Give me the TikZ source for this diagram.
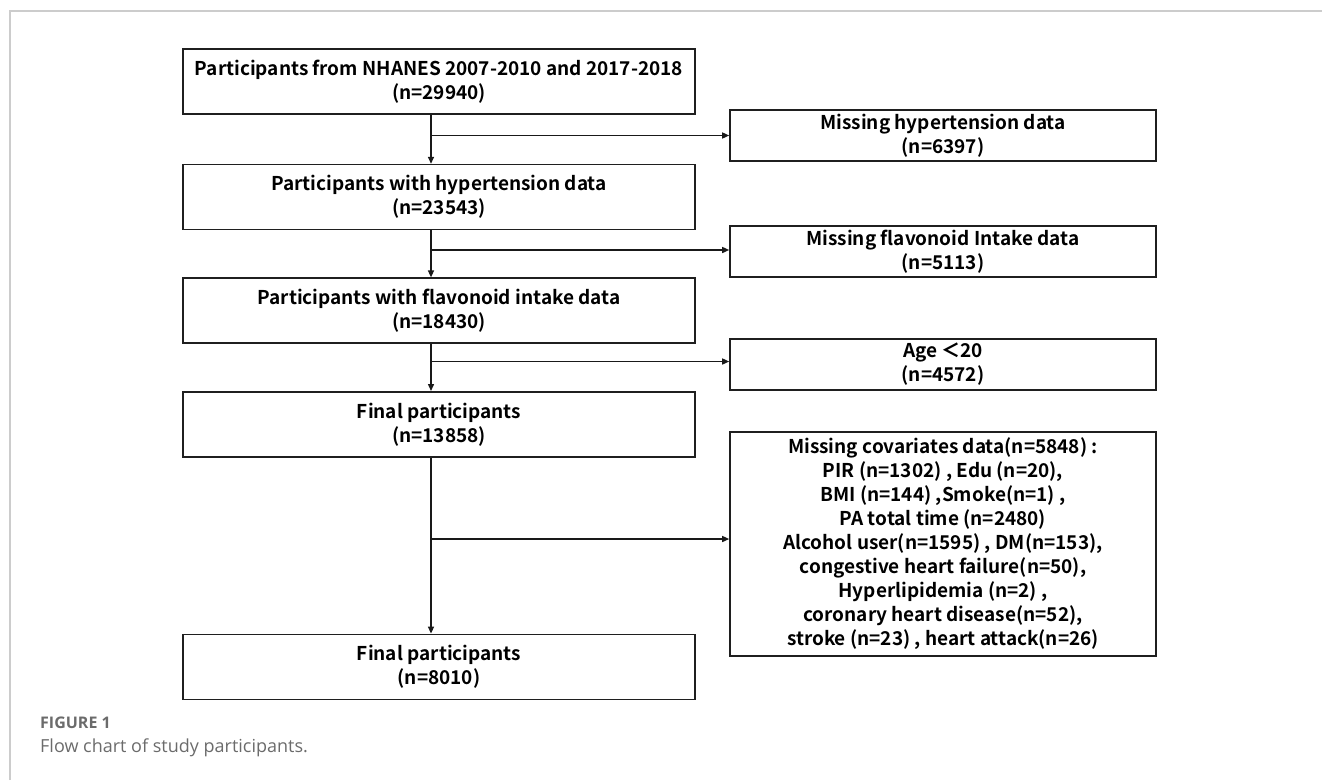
\documentclass[tikz,border=0pt]{standalone}
\usepackage{fontspec}
\setmainfont{Noto Sans CJK SC}[BoldFont={Noto Sans CJK SC Bold}]
\newfontfamily\capfont{Open Sans}
\usetikzlibrary{arrows.meta, positioning}

\begin{document}
\begin{tikzpicture}[
    x=1pt, y=-1pt,
    node distance=47pt,
    lbox/.style={rectangle, draw=black!88, line width=1.6pt, minimum width=512pt, minimum height=65pt,
                 align=center, font=\fontsize{19}{24}\selectfont\bfseries},
    rbox/.style={rectangle, draw=black!88, line width=1.6pt, minimum width=426pt, minimum height=51pt,
                 align=center, font=\fontsize{19}{24}\selectfont\bfseries},
    arr/.style={-{Triangle[length=7pt, width=6pt]}, line width=1.4pt, black!90},
    captext/.style={anchor=west, inner sep=0pt, text=black!58},
]
\useasboundingbox (0,0) rectangle (1322,780);

% page frame
\draw[black!20, line width=1.2pt] (10,780) -- (10,11) -- (1322,11);

% main column
\node[lbox] (all) at (439,81.5) {Participants from NHANES 2007-2010 and 2017-2018\\(n=29940)};
\node[lbox, below=49pt of all] (hyp) {Participants with hypertension data\\(n=23543)};
\node[lbox, below=of hyp] (flav) {Participants with flavonoid intake data\\(n=18430)};
\node[lbox, below=of flav] (fin1) {Final participants\\(n=13858)};
\node[lbox, below=176pt of fin1] (fin2) {Final participants\\(n=8010)};

% exclusions
\node[rbox] (misshyp) at (943,135.5) {Missing hypertension data\\(n=6397)};
\node[rbox] (missflav) at (943,251.5) {Missing flavonoid Intake data\\(n=5113)};
\node[rbox] (age) at (943,364.5) {Age {\fontspec{Noto Sans CJK SC}＜}20\\(n=4572)};
\node[rbox, minimum height=224pt] (misscov) at (943,544) {Missing covariates data(n=5848) :\\
    PIR (n=1302) , Edu (n=20),\\
    BMI (n=144) ,Smoke(n=1) ,\\
    PA total time (n=2480)\\
    Alcohol user(n=1595) , DM(n=153),\\
    congestive heart failure(n=50),\\
    Hyperlipidemia (n=2) ,\\
    coronary heart disease(n=52),\\
    stroke (n=23) , heart attack(n=26)};

% trunk line
\coordinate (trunk) at (431,0);
\draw[arr] (trunk |- all.south) -- (trunk |- hyp.north);
\draw[arr] (trunk |- hyp.south) -- (trunk |- flav.north);
\draw[arr] (trunk |- flav.south) -- (trunk |- fin1.north);
\draw[arr] (trunk |- fin1.south) -- (trunk |- fin2.north);

% side branches
\draw[arr] (trunk |- misshyp.west) -- (misshyp.west);
\draw[arr] ([yshift=1.5pt]trunk |- missflav.west) -- ([yshift=1.5pt]missflav.west);
\draw[arr] ([yshift=3pt]trunk |- age.west) -- ([yshift=3pt]age.west);
\draw[arr] ([yshift=5pt]trunk |- misscov.west) -- ([yshift=5pt]misscov.west);

% caption
\node[captext, font=\capfont\fontsize{16}{19}\selectfont\bfseries] (fignum) at (40,723) {FIGURE 1};
\node[captext, font=\capfont\fontsize{18}{22}\selectfont] (figcap) at (40,748) {Flow chart of study participants.};

\end{tikzpicture}
\end{document}
